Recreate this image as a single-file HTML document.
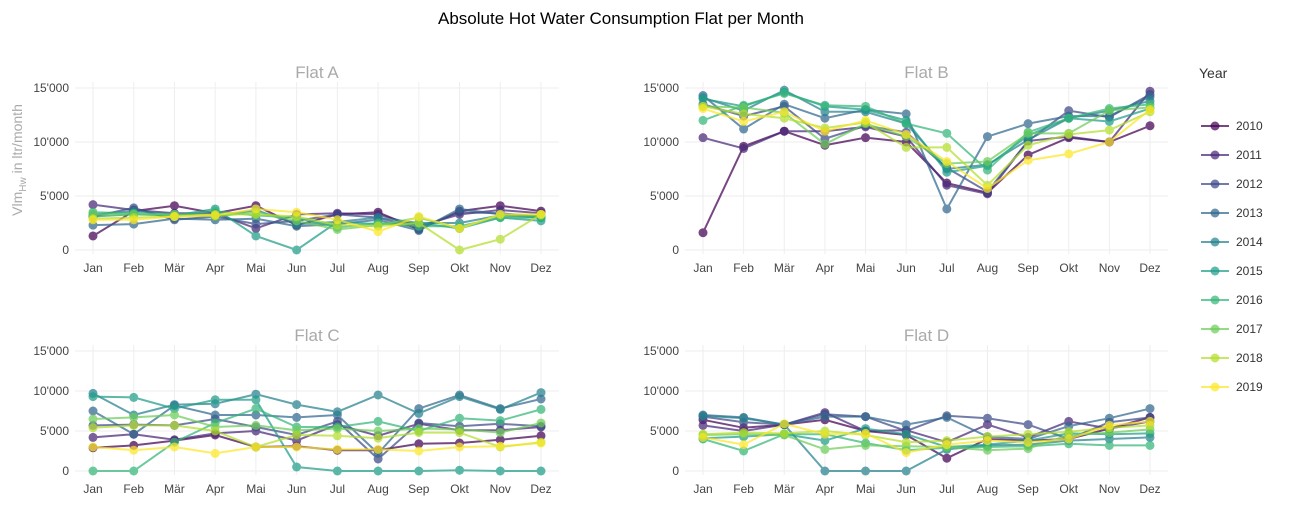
<!DOCTYPE html>
<html><head><meta charset="utf-8">
<style>
body{margin:0;background:#fff;font-family:"Liberation Sans",sans-serif;}
svg text{font-family:"Liberation Sans",sans-serif;}
</style></head>
<body>
<svg id="chart" width="1289" height="516">
<text x="621" y="24" text-anchor="middle" font-size="17" fill="#000">Absolute Hot Water Consumption Flat per Month</text>
<text transform="translate(22,160) rotate(-90)" text-anchor="middle" font-size="14" fill="#aaa">Vlm<tspan font-size="10" dy="4">Hw</tspan><tspan dy="-4"> in ltr/month</tspan></text>
<text x="1199" y="78" font-size="14" fill="#333">Year</text>
<g id="plots"></g>
<g id="legend"></g>
</svg>
<script>
const months=["Jan","Feb","Mär","Apr","Mai","Jun","Jul","Aug","Sep","Okt","Nov","Dez"];
const years=["2010","2011","2012","2013","2014","2015","2016","2017","2018","2019"];
const colors=["#440154","#482878","#3E4A89","#31688E","#26828E","#1F9E89","#35B779","#6DCD59","#B4DE2C","#FDE725"];
const yTicks=[0,5000,10000,15000];
const yTickLabels=["0","5'000","10'000","15'000"];
const flatA=[
[1300,3600,4100,3400,4100,2300,3300,3500,1900,3600,4100,3600],
[4200,3700,3400,3400,2000,3300,3400,3300,2200,3300,3700,3400],
[3100,3900,2800,3100,2400,2700,3300,3000,2000,3500,3400,3100],
[2300,2400,2900,2800,2900,2200,2400,2800,1800,3800,3300,3000],
[3300,3600,3300,3100,3700,2400,2600,3000,2500,2500,3200,3000],
[3100,3300,3200,3800,1300,0,2600,2400,2500,2000,3000,2700],
[3500,3400,3200,3600,3200,3000,2100,2500,2200,2200,3000,3000],
[3300,3300,3300,3100,3500,2700,1900,2300,3000,2000,3200,3200],
[2900,3000,3100,3300,3300,3100,2300,2200,2500,0,1000,3300],
[2800,2800,3100,3200,3800,3500,2800,1700,3100,2000,3300,3300]];
const flatB=[
[1600,9600,11000,9700,10400,10000,6200,5300,8800,10400,10000,11500],
[10400,9400,11000,11000,11400,10500,6000,5200,10100,10500,10000,14700],
[13500,12400,13300,10300,11500,10900,7600,5400,10100,12900,12300,14400],
[14300,11200,13500,12200,13000,12600,3800,10500,11700,12400,12400,14200],
[14100,12900,14800,12800,12800,11700,7500,7900,10200,12200,12900,13800],
[14000,13300,14600,13300,13000,12000,7200,7800,10600,12200,11900,13100],
[12000,13400,14500,13400,13300,11700,10800,7400,10900,12200,13100,13500],
[13300,13200,12700,9800,11700,10500,8000,8200,10800,10800,12900,13200],
[13300,12600,12200,11300,11800,9500,9500,6000,9700,10700,11100,12800],
[13100,11900,12800,11000,12000,10700,8200,5700,8300,8900,10000,13000]];
const flatC=[
[2900,3200,3800,4500,3000,3100,2600,2600,3400,3500,3900,4400],
[4200,4600,3900,4700,5000,3800,5800,4400,5900,5100,5100,5500],
[5700,5800,5700,6500,5500,4500,6200,1500,6000,5600,5900,5600],
[7500,4600,8200,7000,7000,6700,7000,2200,7800,9500,7800,9000],
[9700,7000,8300,8400,9600,8300,7400,9500,7200,9300,7700,9800],
[9300,9200,7800,8900,8900,500,0,0,0,100,0,0],
[0,0,3600,6000,7800,5500,5500,6200,5000,6600,6300,7700],
[6500,6700,7000,5500,5700,5100,5300,5000,5300,5200,4800,6000],
[5400,5700,5700,5000,3000,4500,4400,4100,4800,4800,3000,3600],
[3000,2600,3000,2200,3000,3000,2700,2700,2500,3000,3100,3500]];
const flatD=[
[6400,5400,5800,6400,5000,4500,1600,4000,3800,4000,5300,6700],
[5700,5000,5800,7300,5000,5100,3600,5800,4200,6200,5300,6200],
[6800,6100,5800,7100,6800,5000,6900,6600,5800,4000,6100,6700],
[7000,6700,5800,6800,6800,5800,6700,4300,4000,5600,6600,7800],
[6900,6600,5800,0,0,0,2700,3200,3300,3800,4000,4200],
[4100,4300,4600,3800,5300,4600,3000,3300,3800,4700,4600,4700],
[4000,2500,4600,4600,3500,2600,2900,3000,3100,3400,3200,3200],
[4500,4600,4500,2700,3200,3100,3000,2600,2800,4500,4800,5200],
[4600,4800,4700,5000,4500,3600,3800,4300,4600,4900,5400,5700],
[4200,3300,5900,4600,4700,2300,3300,3800,3600,4000,5700,6200]];
const NS="http://www.w3.org/2000/svg";
function mk(t,a,p){const e=document.createElementNS(NS,t);for(const k in a)e.setAttribute(k,a[k]);p.appendChild(e);return e;}
const plots=document.getElementById('plots');
const panels=[
{name:"Flat A",data:flatA,x0:93,x1:541,y0:250,y15:88,key:"a"},
{name:"Flat B",data:flatB,x0:703,x1:1150,y0:250,y15:88,key:"b"},
{name:"Flat C",data:flatC,x0:93,x1:541,y0:471,y15:351,key:"c"},
{name:"Flat D",data:flatD,x0:703,x1:1150,y0:471,y15:351,key:"d"}];
panels.forEach(p=>{
  const g=mk('g',{},plots);
  
  
  const xs=i=>p.x0+(p.x1-p.x0)*i/11;
  const ys=v=>p.y0-(p.y0-p.y15)*v/15000;
  const t=mk('text',{x:(p.x0+p.x1)/2,y:p.y15-10,'text-anchor':'middle','font-size':17,fill:'#aaa'},g);
  t.textContent=p.name;
  
  
  months.forEach((m,i)=>{
    const l=mk('line',{x1:xs(i),x2:xs(i),y1:p.y15-6,y2:p.y0+4,stroke:'#eee'},g);
    
    
    const tx=mk('text',{x:xs(i),y:p.y0+22,'text-anchor':'middle','font-size':12,fill:'#444'},g);
    tx.textContent=m;
    
    
  });
  yTicks.forEach((v,i)=>{
    const l=mk('line',{x1:p.x0-18,x2:p.x1+18,y1:ys(v),y2:ys(v),stroke:'#eee'},g);
    
    
    const tx=mk('text',{x:p.x0-24,y:ys(v)+4,'text-anchor':'end','font-size':12,fill:'#444'},g);
    tx.textContent=yTickLabels[i];
    
    
  });
  p.data.forEach((s,k)=>{
    const sg=mk('g',{opacity:0.72},g);
    
    
    const pl=mk('polyline',{points:s.map((v,i)=>xs(i)+','+ys(v)).join(' '),fill:'none',stroke:colors[k],'stroke-width':2},sg);
    
    
    s.forEach((v,i)=>{
      const c=mk('circle',{cx:xs(i),cy:ys(v),r:4.5,fill:colors[k]},sg);
      
      
    });
  });
});
const lg=document.getElementById('legend');
years.forEach((y,k)=>{
  const g=mk('g',{},lg);
  
  
  const cy=126+k*29;
  mk('line',{x1:1201,x2:1229,y1:cy,y2:cy,stroke:colors[k],'stroke-width':2,opacity:0.72},g);
  mk('circle',{cx:1215,cy:cy,r:4.5,fill:colors[k],opacity:0.72},g);
  const t=mk('text',{x:1236,y:cy+4,'font-size':12,fill:'#333'},g);
  t.textContent=y;
});
</script>
</body></html>
